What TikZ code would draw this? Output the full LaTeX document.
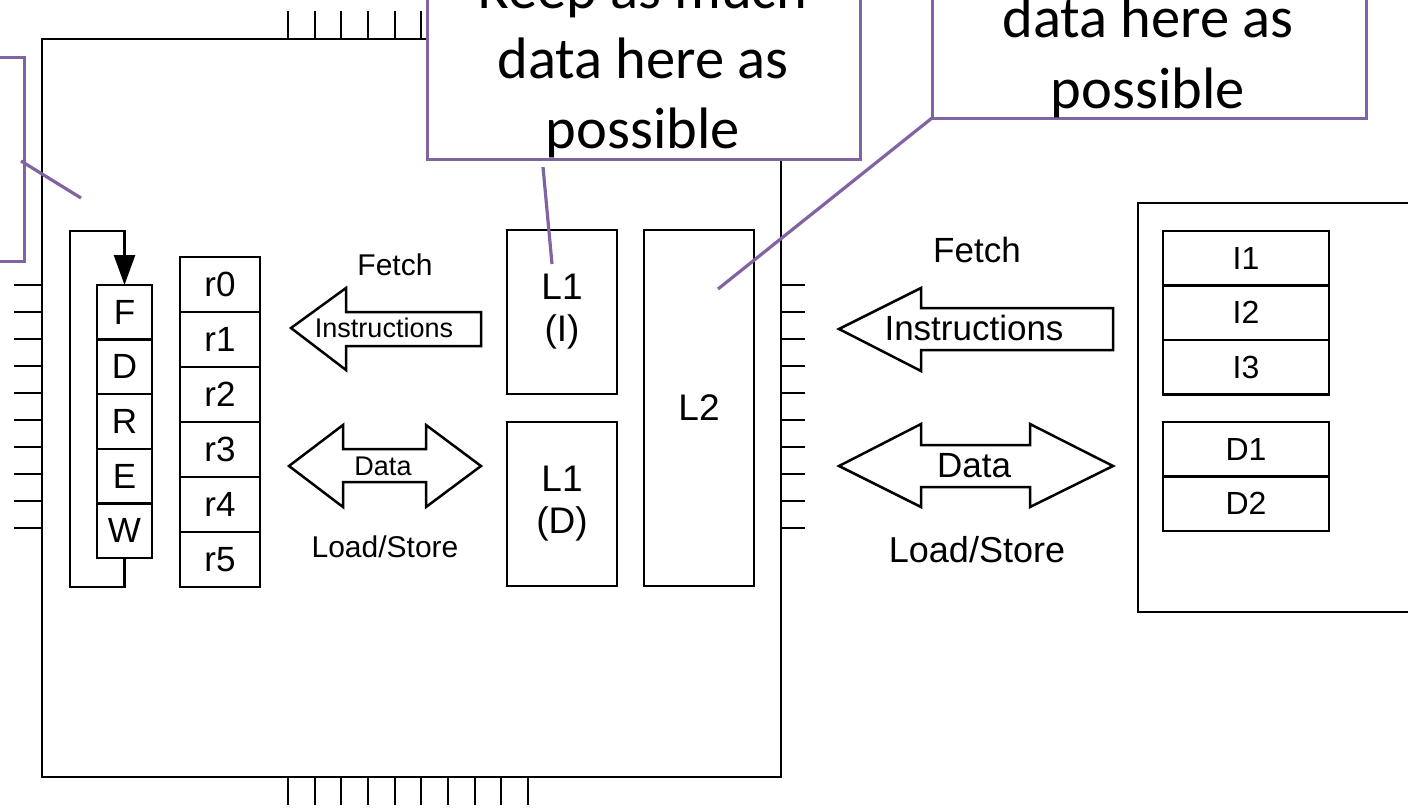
\documentclass[tikz,border=0pt]{standalone}
\usepackage{fontspec}
\setmainfont{Liberation Sans}
\newfontfamily\calloutfont{Carlito}
\usetikzlibrary{arrows.meta}
\definecolor{calloutpurple}{HTML}{8064A2}

\begin{document}
\begin{tikzpicture}[x=1pt,y=-1pt,
  every node/.style={inner sep=0pt, outer sep=0pt},
  wire/.style={line width=2.5pt},
  pin/.style={line width=2pt},
  stage/.style={draw, line width=2.5pt, minimum width=55pt, minimum height=54.6pt,
    font=\fontsize{35}{40}\selectfont},
  reg/.style={draw, line width=2.5pt, minimum width=80pt, minimum height=55pt,
    font=\fontsize{35}{40}\selectfont},
  cache/.style={draw, line width=2.5pt, minimum width=110pt, align=center,
    font=\fontsize{37}{42}\selectfont},
  memcell/.style={draw, line width=2.5pt, minimum width=166pt, minimum height=54.5pt,
    font=\fontsize{32}{36}\selectfont},
  bigarrow/.style={draw, line width=2.5pt, fill=white, line join=miter},
  smalllbl/.style={font=\fontsize{27}{32}\selectfont},
  midlbl/.style={font=\fontsize{30}{36}\selectfont},
  biglbl/.style={font=\fontsize{35}{42}\selectfont},
  callout/.style={draw=calloutpurple, line width=3pt, fill=white},
  callline/.style={draw=calloutpurple, line width=3.2pt},
  calltext/.style={font=\calloutfont\fontsize{58.5}{70}\selectfont, anchor=base}]

\useasboundingbox (0,0) rectangle (1408,809);
\clip (0,0) rectangle (1408,809);

% ---- processor chip and its pins ----
\foreach \i in {0,...,9} {
  \draw[pin] (288+26.67*\i, 11) -- (288+26.67*\i, 39);
  \draw[pin] (288+26.67*\i, 777) -- (288+26.67*\i, 805);
  \draw[pin] (14, 285+27*\i) -- (42, 285+27*\i);
  \draw[pin] (781, 285+27*\i) -- (805, 285+27*\i);
}
\node[draw, line width=2.7pt, anchor=north west, minimum width=739pt, minimum height=738pt]
  (chip) at (42,39) {};

% ---- pipeline stages ----
\foreach \s [count=\i] in {F,D,R,E,W}
  \node[stage] (st\s) at (124.5, 285+54.6*\i-27.3) {\s};

\coordinate (loopBL) at (70,587);
\coordinate (loopTL) at (70,231);
\draw[wire, line join=miter, -{Triangle[width=21pt,length=30pt]}]
  (stW.south) |- (loopBL) |- (stF.north |- loopTL) -- (stF.north);

% ---- register file ----
\foreach \r in {0,...,5}
  \node[reg] (r\r) at (220, 257+55*\r+27.5) {r\r};

% ---- caches ----
\node[cache, minimum height=164pt] (l1i) at (562,312) {L1\\(I)};
\node[cache, minimum height=164pt] (l1d) at (562,504) {L1\\(D)};
\node[cache, minimum height=356pt] (l2) at (699,408) {L2};

% ---- transfers inside the chip ----
\draw[bigarrow] (291,328) -- (346,288) -- (346,312) -- (481,312) -- (481,346)
  -- (346,346) -- (346,370) -- cycle;
\draw[bigarrow] (289,466) -- (343,425) -- (343,449) -- (426,449) -- (426,425)
  -- (481,466) -- (426,507) -- (426,482) -- (343,482) -- (343,507) -- cycle;
\node[midlbl] (fetchIn) at (395,265) {Fetch};
\node[smalllbl] (instrIn) at (384,328) {Instructions};
\node[smalllbl] (dataIn) at (383,466) {Data};
\node[midlbl] (lsIn) at (385,547) {Load/Store};

% ---- main memory ----
\node[draw, line width=2.5pt, anchor=north west, minimum width=300pt, minimum height=409pt]
  (mem) at (1138,203) {};
\node[memcell] (mI1) at (1246,258) {I1};
\node[memcell] (mI2) at (1246,312.5) {I2};
\node[memcell] (mI3) at (1246,367) {I3};
\node[memcell] (mD1) at (1246,449) {D1};
\node[memcell] (mD2) at (1246,503.5) {D2};

% ---- transfers between chip and memory ----
\draw[bigarrow] (839,329) -- (921,288) -- (921,308) -- (1113,308) -- (1113,350)
  -- (921,350) -- (921,371) -- cycle;
\draw[bigarrow] (839,466) -- (921,424) -- (921,445) -- (1030,445) -- (1030,424)
  -- (1113,466) -- (1030,507) -- (1030,487) -- (921,487) -- (921,507) -- cycle;
\node[biglbl] (fetchOut) at (977,250) {Fetch};
\node[biglbl] (instrOut) at (974,328) {Instructions};
\node[biglbl] (dataOut) at (974,466) {Data};
\node[font=\fontsize{36}{42}\selectfont] (lsOut) at (977,550) {Load/Store};

% ---- notes ----
\node[callout, anchor=south east, minimum width=200pt, minimum height=204pt]
  (noteReg) at (24,261) {};
\coordinate (ptrRegA) at (21,161);
\coordinate (ptrRegB) at (81,198);
\draw[callline] (ptrRegA) -- (ptrRegB);

\node[callout, anchor=south west, minimum width=433pt, minimum height=260pt]
  (noteL1) at (427,159) {};
\node[calltext] (noteL1a) at (643,8) {Keep as much};
\node[calltext] (noteL1b) at (643,78) {data here as};
\node[calltext] (noteL1c) at (643,148) {possible};
\coordinate (ptrL1A) at (543,167);
\coordinate (ptrL1B) at (552,264);
\draw[callline] (ptrL1A) -- (ptrL1B);

\node[callout, anchor=south west, minimum width=434pt, minimum height=220pt]
  (noteL2) at (932,118) {};
\node[calltext] (noteL2b) at (1148,37) {data here as};
\node[calltext] (noteL2c) at (1148,108) {possible};
\coordinate (ptrL2B) at (718,289);
\draw[callline] (noteL2.south west) -- (ptrL2B);

\end{tikzpicture}
\end{document}
